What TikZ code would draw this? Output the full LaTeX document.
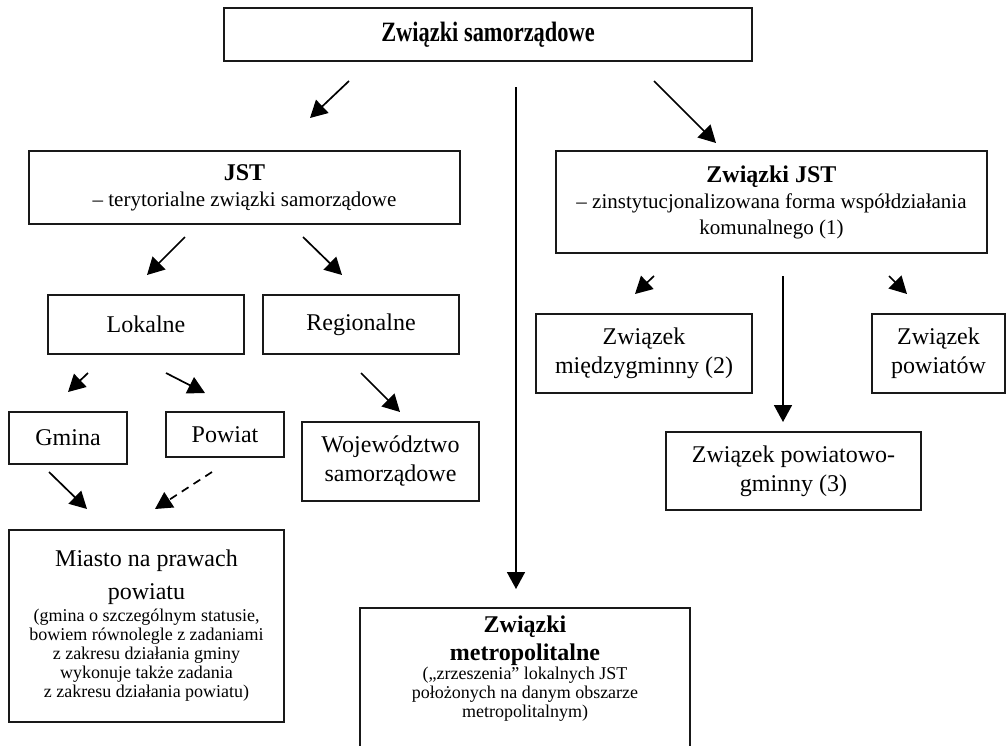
\documentclass[tikz,border=0pt]{standalone}
\usepackage{fontspec}
\setmainfont{Liberation Serif}
\usetikzlibrary{arrows.meta}
\newcommand\smtxt{\fontsize{18}{19}\selectfont}
\newcommand\bigtxt{\fontsize{24}{29}\selectfont}
\begin{document}
\begin{tikzpicture}[x=1pt,y=-1pt,
  box/.style={draw=black!90, line width=1.7pt, inner sep=0pt, align=center},
  big/.style={font=\fontsize{24}{29}\selectfont},
  sub/.style={font=\fontsize{21}{26}\selectfont},
  arr/.style={line width=1.7pt, -{Triangle[length=17pt,width=18pt]}},
  dash arr/.style={arr, dash pattern=on 8pt off 6pt},
]
\useasboundingbox (0,0) rectangle (1007,745);
\clip (0,0) rectangle (1007,745);

% boxes
\node[box, minimum width=528, minimum height=53] (top) at (488,34.5)
  {\scalebox{0.8}[1]{\fontsize{28}{32}\selectfont\bfseries Związki samorządowe}};

\node[box, sub, minimum width=431, minimum height=73] (jst) at (244.5,187.5)
  {\bigtxt\bfseries JST\\– terytorialne związki samorządowe};

\node[box, sub, minimum width=431, minimum height=102] (zjst) at (771.5,202)
  {\bigtxt\bfseries Związki JST\\– zinstytucjonalizowana forma współdziałania\\komunalnego (1)};

\node[box, big, minimum width=196, minimum height=59] (lok) at (146,324.5) {Lokalne};
\node[box, big, minimum width=196, minimum height=59] (reg) at (361,324.5) {Regionalne};

\node[box, big, minimum width=118, minimum height=52] (gmina) at (68,438) {Gmina};
\node[box, big, minimum width=118, minimum height=45] (powiat) at (225,434.5) {Powiat};
\node[box, big, minimum width=177, minimum height=79] (woj) at (390.5,461.5) {Województwo\\samorządowe};

\node[box, font=\smtxt, minimum width=275, minimum height=192] (miasto) at (146.5,626)
  {\bigtxt Miasto na prawach\\[11pt]
   \bigtxt powiatu\\[3pt]
   \smtxt (gmina o szczególnym statusie,\\
   \smtxt bowiem równolegle z zadaniami\\
   \smtxt z zakresu działania gminy\\
   \smtxt wykonuje także zadania\\
   \smtxt z zakresu działania powiatu)};

\node[box, minimum width=330, minimum height=190, anchor=north] (metro) at (525,607) {};
\node[anchor=north, align=center, font=\smtxt, inner sep=0pt] (metrotxt) at (525,616)
  {\bigtxt\bfseries Związki\\[5pt]
   \bigtxt\bfseries metropolitalne\\
   \smtxt („zrzeszenia” lokalnych JST\\
   \smtxt położonych na danym obszarze\\
   \smtxt metropolitalnym)};

\node[box, big, minimum width=216, minimum height=79] (mg) at (644,353.5) {Związek\\międzygminny (2)};
\node[box, big, minimum width=133, minimum height=79] (pw) at (938.5,353.5) {Związek\\powiatów};
\node[box, big, minimum width=255, minimum height=78] (pg) at (793.5,471) {Związek powiatowo-\\gminny (3)};

% connector end points
\coordinate (a1s) at (349,81);  \coordinate (a1e) at (310,118);
\coordinate (vs)  at (516,87);  \coordinate (ve)  at (516,589);
\coordinate (a2s) at (654,81);  \coordinate (a2e) at (716,143);
\coordinate (a3s) at (185,237); \coordinate (a3e) at (147,275);
\coordinate (a4s) at (303,237); \coordinate (a4e) at (342,275);
\coordinate (a5s) at (88,373);  \coordinate (a5e) at (68,392);
\coordinate (a6s) at (166,373); \coordinate (a6e) at (205,393);
\coordinate (a7s) at (361,373); \coordinate (a7e) at (400,412);
\coordinate (a8s) at (49,472);  \coordinate (a8e) at (87,509);
\coordinate (a9s) at (212,472); \coordinate (a9e) at (155,509);
\coordinate (b1s) at (654,276); \coordinate (b1e) at (635,294);
\coordinate (b2s) at (783,276); \coordinate (b2e) at (783,422);
\coordinate (b3s) at (889,276); \coordinate (b3e) at (907,294);

\draw[arr] (a1s) -- (a1e);
\draw[arr] (vs) -- (ve);
\draw[arr] (a2s) -- (a2e);
\draw[arr] (a3s) -- (a3e);
\draw[arr] (a4s) -- (a4e);
\draw[arr] (a5s) -- (a5e);
\draw[arr] (a6s) -- (a6e);
\draw[arr] (a7s) -- (a7e);
\draw[arr] (a8s) -- (a8e);
\draw[dash arr] (a9s) -- (a9e);
\draw[arr] (b1s) -- (b1e);
\draw[arr] (b2s) -- (b2e);
\draw[arr] (b3s) -- (b3e);
\end{tikzpicture}
\end{document}
